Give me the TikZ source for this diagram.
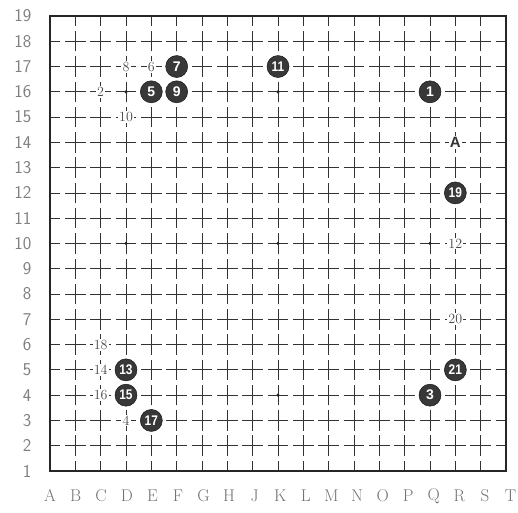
\documentclass[tikz,border=0pt]{standalone}
\usepackage{fontspec}
\newfontfamily\stonefont{Liberation Sans}
\begin{document}
\begin{tikzpicture}[x=1pt,y=-1pt,
  hline/.style={draw=black!80,line width=0.8pt,dash pattern=on 20.5pt off 4.83pt,dash phase=10.25pt},
  vline/.style={draw=black!80,line width=0.8pt,dash pattern=on 20.5pt off 4.78pt,dash phase=10.25pt},
  border/.style={draw=black!85,line width=1.3pt},
  star/.style={circle,fill=black!85,inner sep=0pt,minimum size=3.5pt},
  bstone/.style={circle,fill=black!78,draw=black!90,line width=0.5pt,inner sep=0pt,minimum size=22pt,text=white,font=\stonefont\bfseries\fontsize{14}{14}\selectfont},
  wnum/.style={fill=white,inner sep=1.2pt,text=black!72,font=\fontsize{14}{14}\selectfont},
  marklabel/.style={fill=white,inner sep=1pt,text=black!80,font=\stonefont\bfseries\fontsize{15}{15}\selectfont},
  rowlab/.style={anchor=east,text=black!50,font=\sffamily\fontsize{18}{18}\selectfont},
  collab/.style={text=black!55,font=\fontsize{17}{17}\selectfont}]
\useasboundingbox[fill=white] (0,0) rectangle (518,512);
\begin{scope}[shift={(50,471)},x=25.333pt,y=25.28pt]
  % grid
  \foreach \i in {1,...,17} {
    \draw[vline] (\i,0) -- (\i,18);
    \draw[hline] (0,\i) -- (18,\i);
  }
  \draw[border] (0,0) rectangle (18,18);
  % star points
  \foreach \p/\n in {{(3,15)}/sa,{(9,15)}/sb,{(3,9)}/sc,{(9,9)}/sd,{(15,9)}/se,{(9,3)}/sf}
    \node[star] (\n) at \p {};
  % row labels
  \foreach \r in {1,...,19} {
    \pgfmathtruncatemacro{\yy}{\r-1}
    \node[rowlab] (row\r) at (-0.6,\yy) {\r};
  }
  % column labels
  \foreach \c [count=\k from 0] in {A,B,C,D,E,F,G,H,J,K,L,M,N,O,P,Q,R,S,T}
    \node[collab] (col\c) at ({\k*1.01},-0.98) {\c};
  % white move numbers
  \node[wnum] (w2) at (2,15) {2};
  \node[wnum] (w4) at (3,2) {4};
  \node[wnum] (w6) at (4,16) {6};
  \node[wnum] (w8) at (3,16) {8};
  \node[wnum] (w10) at (3,14) {10};
  \node[wnum] (w12) at (16,9) {12};
  \node[wnum] (w14) at (2,4) {14};
  \node[wnum] (w16) at (2,3) {16};
  \node[wnum] (w18) at (2,5) {18};
  \node[wnum] (w20) at (16,6) {20};
  \node[marklabel] (mA) at (16,13) {A};
  % black stones
  \node[bstone] (b1) at (15,15) {1};
  \node[bstone] (b3) at (15,3) {3};
  \node[bstone] (b5) at (4,15) {5};
  \node[bstone] (b7) at (5,16) {7};
  \node[bstone] (b9) at (5,15) {9};
  \node[bstone] (b11) at (9,16) {\scalebox{0.85}[1]{11}};
  \node[bstone] (b13) at (3,4) {\scalebox{0.85}[1]{13}};
  \node[bstone] (b15) at (3,3) {\scalebox{0.85}[1]{15}};
  \node[bstone] (b17) at (4,2) {\scalebox{0.85}[1]{17}};
  \node[bstone] (b19) at (16,11) {\scalebox{0.85}[1]{19}};
  \node[bstone] (b21) at (16,4) {\scalebox{0.85}[1]{21}};
\end{scope}
\end{tikzpicture}
\end{document}
